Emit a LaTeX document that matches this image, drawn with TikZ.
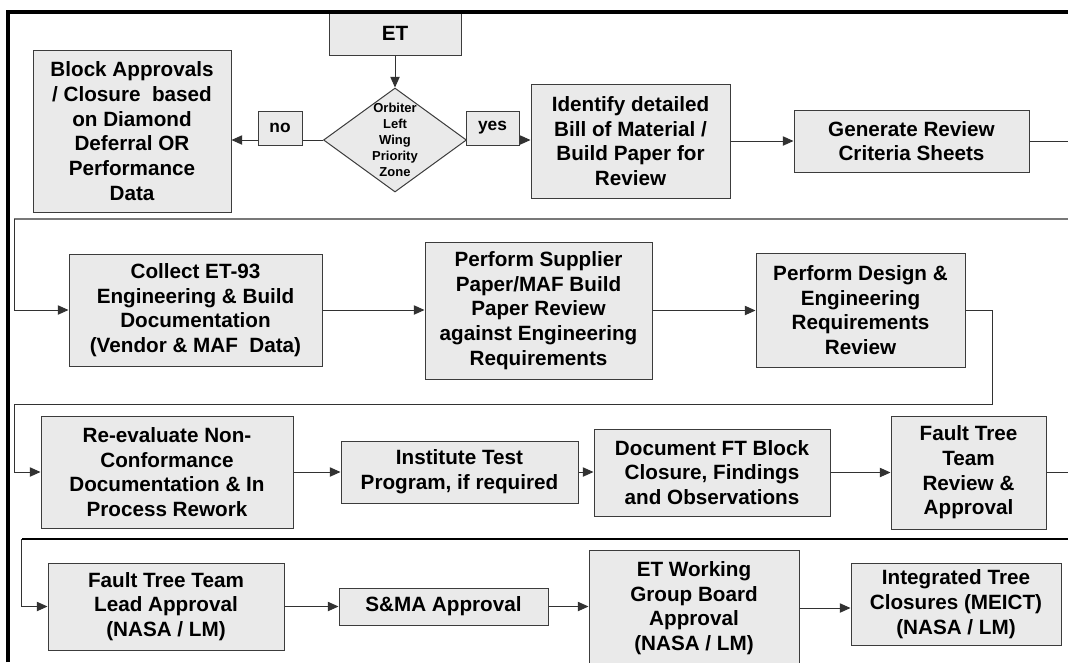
\documentclass[tikz,border=0pt]{standalone}
\usepackage{fontspec}
\setmainfont{Liberation Sans}
\usetikzlibrary{shapes.geometric,arrows.meta}
\definecolor{boxfill}{RGB}{234,234,234}
\definecolor{boxline}{RGB}{60,60,60}
\definecolor{conn}{RGB}{50,50,50}
\definecolor{sepgray}{RGB}{120,120,120}
\newcommand{\mkbox}[6]{\node[box, minimum width={(#4-#2)*0.75pt}, minimum height={(#5-#3)*0.75pt}] (#1) at ({(#2+#4)/2},{(#3+#5)/2}) {#6};}
\begin{document}
\begin{tikzpicture}[x=0.75pt,y=-0.75pt,
  box/.style={draw=boxline, line width=0.75pt, fill=boxfill, align=center, inner sep=0pt,
    font=\bfseries\fontsize{15.5}{18.5}\selectfont},
  diabox/.style={diamond, draw=boxline, line width=0.75pt, fill=boxfill, inner sep=0pt},
  diatext/.style={align=center, inner sep=0pt, font=\bfseries\fontsize{9.75}{12}\selectfont},
  arr/.style={draw=conn, line width=0.75pt, -{Triangle[length=8pt,width=7pt]}},
  ln/.style={draw=conn, line width=0.75pt},
  seg/.style={draw=sepgray, line width=1.1pt},
  heavy/.style={draw=black, line width=1.3pt},
  framestyle/.style={draw=black, line width=3pt}]
\useasboundingbox (0,0) rectangle (1068,662);
\clip (0,0) rectangle (1068,662);
\fill[white] (0,0) rectangle (1068,662);

% free ends of connectors
\coordinate (r1) at (1068,143);
\coordinate (s1a) at (1068,219);
\coordinate (s1b) at (14,219);
\coordinate (k2) at (992,404);
\coordinate (k3) at (14,404);
\coordinate (r3) at (1068,472);
\coordinate (s3a) at (1068,539);
\coordinate (s3b) at (21.5,539);

% Row 1
\mkbox{et}{329}{12}{461}{55}{\fontsize{15.5}{18}\selectfont ET}
\node[diabox, minimum width={143*0.75pt}, minimum height={104*0.75pt}] (dia) at (395,140) {};
\mkbox{block}{33}{50}{231}{212}{\fontsize{15.5}{17.4}\selectfont Block Approvals\\/ Closure\ \ based\\on Diamond\\Deferral OR\\Performance\\Data}
\mkbox{ident}{531}{84}{730}{198}{Identify detailed\\Bill of Material /\\Build Paper for\\Review}
\mkbox{gen}{794}{110}{1029}{172}{Generate Review\\Criteria Sheets}

% Row 2
\mkbox{collect}{69}{254}{322}{366}{Collect ET-93\\Engineering \& Build\\Documentation\\(Vendor \& MAF\ \ Data)}
\mkbox{supp}{425}{242}{652}{379}{Perform Supplier\\Paper/MAF Build\\Paper Review\\against Engineering\\Requirements}
\mkbox{design}{756}{253}{965}{367}{Perform Design \&\\Engineering\\Requirements\\Review}

% Row 3
\mkbox{reeval}{41}{416}{293}{528}{Re-evaluate Non-\\Conformance\\Documentation \& In\\Process Rework}
\mkbox{inst}{341}{441}{578}{503}{Institute Test\\Program, if required}
\mkbox{docft}{594}{429}{830}{516}{Document FT Block\\Closure, Findings\\and Observations}
\mkbox{ftr}{891}{416}{1046}{529}{Fault Tree\\Team\\Review \&\\Approval}

% Row 4
\mkbox{ftl}{48}{563}{284}{650}{Fault Tree Team\\Lead Approval\\(NASA / LM)}
\mkbox{sma}{339}{588}{548}{625}{S\&MA Approval}
\mkbox{etw}{589}{550}{799}{666}{ET Working\\Group Board\\Approval\\(NASA / LM)}
\mkbox{integ}{851}{563}{1061}{645}{Integrated Tree\\Closures (MEICT)\\(NASA / LM)}

% Connectors row 1
\draw[arr] (et.south -| dia.north) -- (dia.north);
\draw[arr] (dia.west) -- (dia.west -| block.east);
\draw[arr] (dia.east) -- (dia.east -| ident.west);
\draw[arr] (ident.east) -- (ident.east -| gen.west);
\draw[ln] (gen.east) -- (gen.east -| r1);
\draw[seg] (s1a) -- (s1b);
\draw[arr] (s1b) |- (collect.west);

% labels on the decision branches
\mkbox{no}{258}{111}{302}{145}{\fontsize{13}{15}\selectfont no}
\mkbox{yes}{466}{111}{519}{145}{\fontsize{13}{15}\selectfont yes}
\node[diatext] (diat) at (dia) {Orbiter\\Left\\Wing\\Priority\\Zone};

% Connectors row 2
\draw[arr] (collect.east) -- (collect.east -| supp.west);
\draw[arr] (supp.east) -- (supp.east -| design.west);
\draw[ln] (design.east) -| (k2) -- (k3);
\draw[arr] (k3) |- (reeval.west);

% Connectors row 3
\draw[arr] (reeval.east) -- (reeval.east -| inst.west);
\draw[arr] (inst.east) -- (inst.east -| docft.west);
\draw[arr] (docft.east) -- (docft.east -| ftr.west);
\draw[ln] (ftr.east) -- (ftr.east -| r3);
\draw[heavy] (s3a) -- (s3b);
\draw[arr] (s3b) |- (ftl.west);

% Connectors row 4
\draw[arr] (ftl.east) -- (ftl.east -| sma.west);
\draw[arr] (sma.east) -- (sma.east -| etw.west);
\draw[arr] (etw.east) -- (etw.east -| integ.west);

% Frame
\draw[framestyle] (8,662) -- (8,12) -- (1068,12);
\end{tikzpicture}
\end{document}
